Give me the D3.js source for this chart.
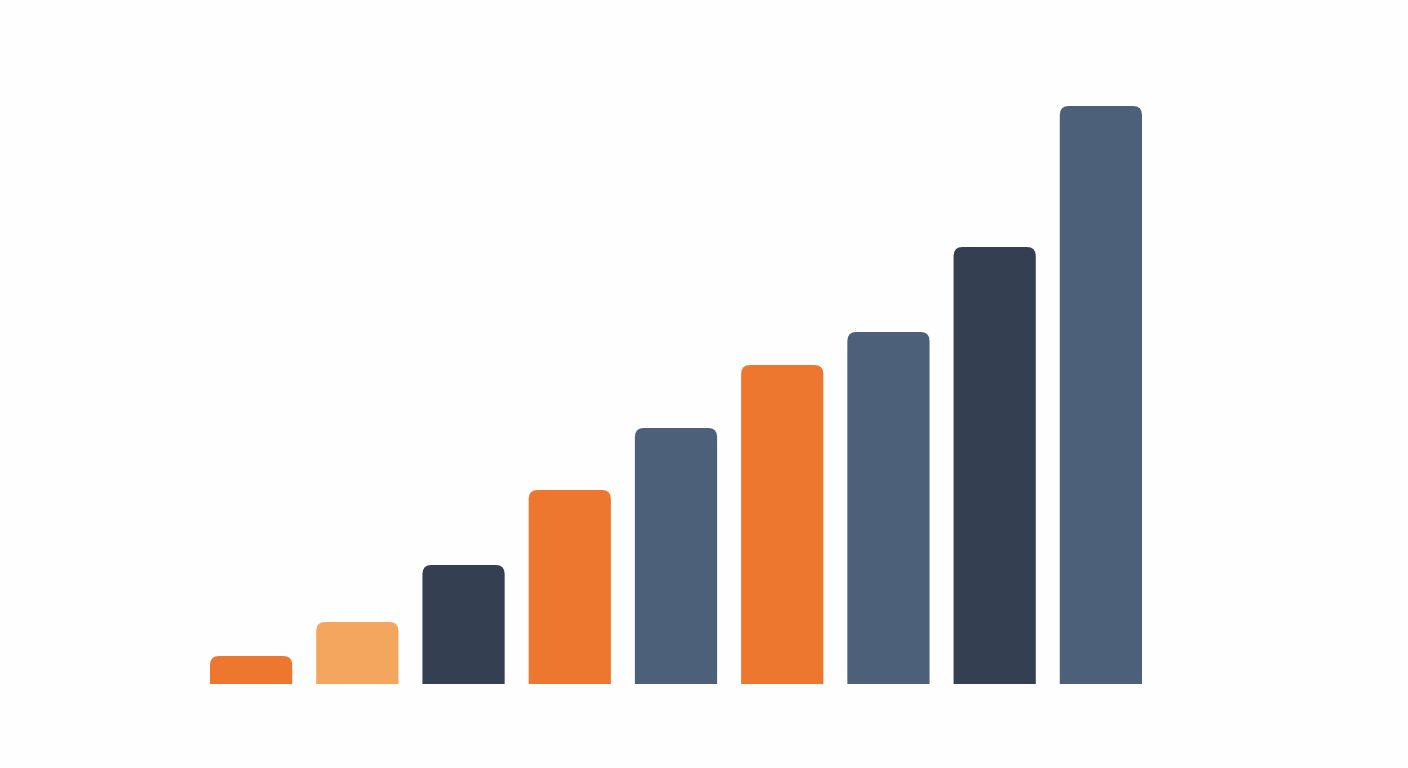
<!DOCTYPE html>
<html>
<head>
<meta charset="utf-8">
<script src="https://cdn.jsdelivr.net/npm/d3@7"></script>
<style>
  body { margin: 0; background: #fefefe; }
</style>
</head>
<body>
<div id="chart"></div>
<script>
// data
var categories = ["A", "B", "C", "D", "E", "F", "G", "H", "I"];
var values = [28, 62, 119, 194, 256, 319, 352, 437, 578];
var colorKeys = ["orange", "light", "navy", "orange", "slate", "orange", "slate", "navy", "slate"];

var palette = {
    orange: "#ee772f",
    light: "#f4a65e",
    navy: "#343f52",
    slate: "#4c6179"
};

//dimensions
var W = 1408, H = 768;
var margin = { top: 84, right: 266, bottom: 84, left: 210 },
    width = W - margin.left - margin.right,
    height = H - margin.top - margin.bottom;

var x = d3.scaleBand()
    .domain(categories)
    .range([0, width])
    .paddingInner(0.226)
    .paddingOuter(0);

var y = d3.scaleLinear()
    .domain([0, 600])
    .range([height, 0]);

var svg = d3.select("#chart").append("svg")
    .attr("width", W)
    .attr("height", H)
    .append("g")
    .attr("transform", "translate(" + margin.left + "," + margin.top + ")");

// bar with rounded top corners only
function topRounded(x0, y0, w, h, r) {
    r = Math.min(r, h, w / 2);
    return "M" + x0 + "," + (y0 + h) +
        "V" + (y0 + r) +
        "Q" + x0 + "," + y0 + " " + (x0 + r) + "," + y0 +
        "H" + (x0 + w - r) +
        "Q" + (x0 + w) + "," + y0 + " " + (x0 + w) + "," + (y0 + r) +
        "V" + (y0 + h) + "Z";
}

svg.selectAll(".bar")
    .data(values)
    .enter()
    .append("path")
    .attr("class", "bar")
    .attr("fill", function(d, i) { return palette[colorKeys[i]] })
    .attr("d", function(d, i) {
        return topRounded(x(categories[i]), y(d), x.bandwidth(), height - y(d), 9);
    });
</script>
</body>
</html>
